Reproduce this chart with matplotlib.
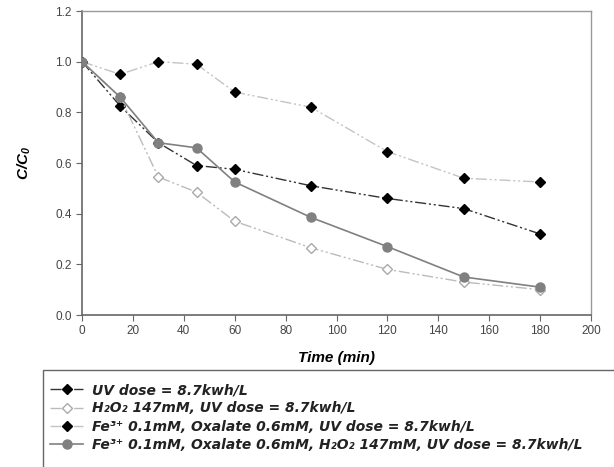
import numpy as np
import matplotlib
matplotlib.use('Agg')
import matplotlib.pyplot as plt
from matplotlib.patches import Rectangle

plt.rcParams['font.family'] = ['Liberation Sans', 'DejaVu Sans']
plt.rcParams['mathtext.fontset'] = 'custom'
plt.rcParams['mathtext.rm'] = 'Liberation Sans:bold:italic'
plt.rcParams['mathtext.it'] = 'Liberation Sans:bold:italic'

# datos
tiempo = [0, 15, 30, 45, 60, 90, 120, 150, 180]
uv = [1.0, 0.825, 0.68, 0.59, 0.575, 0.51, 0.46, 0.42, 0.32]
h2o2 = [1.0, 0.86, 0.545, 0.485, 0.37, 0.265, 0.18, 0.13, 0.10]
fe_ox = [1.0, 0.95, 1.0, 0.99, 0.88, 0.82, 0.645, 0.54, 0.525]
fe_ox_h2o2 = [1.0, 0.86, 0.68, 0.66, 0.525, 0.385, 0.27, 0.15, 0.11]

etiquetas = [
    'UV dose = 8.7kwh/L',
    'H₂O₂ 147mM, UV dose = 8.7kwh/L',
    'Fe³⁺ 0.1mM, Oxalate 0.6mM, UV dose = 8.7kwh/L',
    'Fe³⁺ 0.1mM, Oxalate 0.6mM, H₂O₂ 147mM, UV dose = 8.7kwh/L',
]

fig = plt.figure(figsize=(6.14, 4.67), dpi=100)
ax = fig.add_axes([82/614, 1-315/467, (591-82)/614, (315-11)/467])

ddot = (0, (8, 2, 1.5, 2, 1.5, 2))
ax.plot(tiempo, uv, color='#333333', lw=1.0, linestyle=ddot, marker='D',
        ms=5.5, mfc='black', mec='black', label=etiquetas[0], zorder=3)
ax.plot(tiempo, h2o2, color='#bbbbbb', lw=1.0, linestyle=ddot, marker='D',
        ms=5.5, mfc='white', mec='#aaaaaa', label=etiquetas[1], zorder=3)
ax.plot(tiempo, fe_ox, color='#c4c4c4', lw=1.0, linestyle=ddot, marker='D',
        ms=5.5, mfc='black', mec='black', label=etiquetas[2], zorder=3)
ax.plot(tiempo, fe_ox_h2o2, color='#808080', lw=1.2, linestyle='-', marker='o',
        ms=6.5, mfc='#808080', mec='#808080', label=etiquetas[3], zorder=4)

ax.set_xlim(0, 200)
ax.set_ylim(0, 1.2)
ax.set_xticks(np.arange(0, 201, 20))
ax.set_yticks(np.arange(0, 1.21, 0.2))
ax.set_yticklabels([f'{v:.1f}' for v in np.arange(0, 1.21, 0.2)])
ax.tick_params(direction='out', length=4, color='#666666', labelcolor='#444444',
               labelsize=8.5)
for s in ['left', 'bottom']:
    ax.spines[s].set_color('#666666')
    ax.spines[s].set_linewidth(1.2)
for s in ['top', 'right']:
    ax.spines[s].set_color('#999999')
    ax.spines[s].set_linewidth(1.0)

ax.set_xlabel('Time (min)', fontsize=11, fontweight='bold', fontstyle='italic',
              labelpad=10)
ax.set_ylabel(r'C/C$_0$', fontsize=11, fontweight='bold', fontstyle='italic',
              labelpad=16)

# leyenda sin marco, el marco se dibuja aparte y sale de la figura
leg = fig.legend(loc='upper left', bbox_to_anchor=(50/614, 1-383/467),
                 prop={'family': 'DejaVu Sans', 'weight': 'bold',
                       'style': 'italic', 'size': 10},
                 frameon=False, handlelength=2.4, handletextpad=0.6,
                 labelspacing=0.32, borderpad=0, borderaxespad=0)
for t in leg.get_texts():
    t.set_color('#222222')
fig.patches.append(Rectangle((43/614, -0.1), 1.0, 0.1 + (467-370)/467,
                             transform=fig.transFigure, fill=False,
                             edgecolor='#666666', lw=1.0))

fig.savefig('out.png', dpi=100)
